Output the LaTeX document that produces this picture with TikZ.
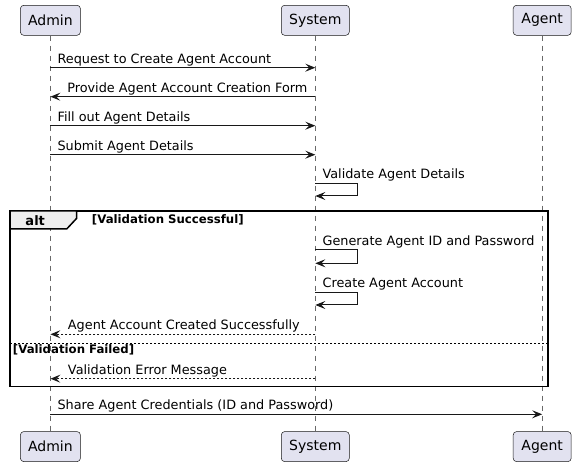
\documentclass[tikz,border=0pt]{standalone}
\usepackage{fontspec}
\setmainfont{DejaVu Sans}
\usetikzlibrary{arrows.meta}
\definecolor{pbox}{HTML}{E2E2F0}
\definecolor{pline}{HTML}{181818}
\definecolor{ptab}{HTML}{EEEEEE}
\begin{document}
\begin{tikzpicture}[x=0.75pt,y=-0.75pt,
  participant/.style={draw=pline, fill=pbox, line width=0.375pt, rounded corners=2.5pt,
    minimum height=22.5pt, inner sep=0pt, font=\fontsize{10.5pt}{12pt}\selectfont},
  lifeline/.style={draw=pline!65, line width=0.375pt, dash pattern=on 3.75pt off 3.75pt},
  msg/.style={draw=pline, line width=0.75pt, -{Stealth[length=7.5pt,width=6pt,inset=3pt]}},
  reply/.style={msg, dash pattern=on 1.5pt off 1.5pt},
  lbl/.style={anchor=base west, inner sep=0pt, font=\fontsize{9.62pt}{11pt}\selectfont},
  guard/.style={anchor=base west, inner sep=0pt, font=\fontsize{8.8pt}{10pt}\selectfont\bfseries},
  frame/.style={draw=black, line width=1.125pt},
]
\fill[white] (0,0) rectangle (576,466);
\useasboundingbox (0,0) rectangle (576,466);

% participants
\node[participant, minimum width=45pt] (adminT) at (50.4,20.3) {Admin};
\node[participant, minimum width=51pt] (systemT) at (315.3,20.3) {System};
\node[participant, minimum width=43.5pt] (agentT) at (542.2,20.3) {Agent};
\node[participant, minimum width=45pt] (adminB) at (50.4,446.6) {Admin};
\node[participant, minimum width=51pt] (systemB) at (315.3,446.6) {System};
\node[participant, minimum width=43.5pt] (agentB) at (542.2,446.6) {Agent};

% lifelines
\draw[lifeline] (adminT.south) -- (adminB.north);
\draw[lifeline] (systemT.south) -- (systemB.north);
\draw[lifeline] (agentT.south) -- (agentB.north);

% alt frame
\draw[frame] (10,211) rectangle (548,386.7);
\filldraw[frame, fill=ptab] (10,211) -- (76.7,211) -- (76.7,218.3) -- (66.7,229) -- (10,229) -- cycle;
\node[anchor=base, inner sep=0pt, font=\fontsize{9.75pt}{11pt}\selectfont\bfseries] (altlbl) at (35.2,225.3) {alt};
\node[guard] (g1) at (91.7,223.3) {[Validation Successful]};
\draw[draw=black, line width=0.75pt, dash pattern=on 1.5pt off 1.5pt] (10,343.3) -- (548,343.3);
\node[guard] (g2) at (12.7,353.3) {[Validation Failed]};

% message coordinates
\coordinate (m1a) at (50.4,67.7);  \coordinate (m1b) at (315.3,67.7);
\coordinate (m2a) at (50.4,96.7);  \coordinate (m2b) at (315.3,96.7);
\coordinate (m3a) at (50.4,125.7); \coordinate (m3b) at (315.3,125.7);
\coordinate (m4a) at (50.4,154.7); \coordinate (m4b) at (315.3,154.7);
\coordinate (s1a) at (315.3,183.3); \coordinate (s1r) at (357.3,190); \coordinate (s1b) at (315.3,196);
\coordinate (s2a) at (315.3,250);   \coordinate (s2r) at (357.3,256); \coordinate (s2b) at (315.3,263.3);
\coordinate (s3a) at (315.3,292.3); \coordinate (s3r) at (357.3,298); \coordinate (s3b) at (315.3,305);
\coordinate (m8a) at (50.4,334.3); \coordinate (m8b) at (315.3,334.3);
\coordinate (m9a) at (50.4,378.7); \coordinate (m9b) at (315.3,378.7);
\coordinate (m10a) at (50.4,414.3); \coordinate (m10b) at (542.2,414.3);

% messages
\draw[msg] (m1a) -- (m1b);
\node[lbl] (t1) at (57.3,63.2) {Request to Create Agent Account};
\draw[msg] (m2b) -- (m2a);
\node[lbl] (t2) at (67,92.2) {Provide Agent Account Creation Form};
\draw[msg] (m3a) -- (m3b);
\node[lbl] (t3) at (57.3,121.2) {Fill out Agent Details};
\draw[msg] (m4a) -- (m4b);
\node[lbl] (t4) at (57.3,150.2) {Submit Agent Details};
\draw[msg] (s1a) -| (s1r) |- (s1b);
\node[lbl] (t5) at (322.3,178.8) {Validate Agent Details};
\draw[msg] (s2a) -| (s2r) |- (s2b);
\node[lbl] (t6) at (322.3,245.5) {Generate Agent ID and Password};
\draw[msg] (s3a) -| (s3r) |- (s3b);
\node[lbl] (t7) at (322.3,287.8) {Create Agent Account};
\draw[reply] (m8b) -- (m8a);
\node[lbl] (t8) at (67.7,329.8) {Agent Account Created Successfully};
\draw[reply] (m9b) -- (m9a);
\node[lbl] (t9) at (67.7,374.2) {Validation Error Message};
\draw[msg] (m10a) -- (m10b);
\node[lbl] (t10) at (57.3,409.8) {Share Agent Credentials (ID and Password)};
\end{tikzpicture}
\end{document}
